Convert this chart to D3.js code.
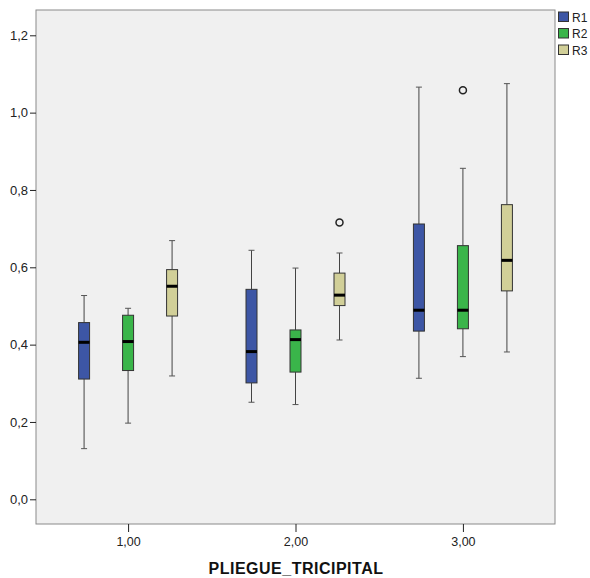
<!DOCTYPE html>
<html><head><meta charset="utf-8">
<script src="https://cdn.jsdelivr.net/npm/d3@7"></script>
<style>body{margin:0;background:#fff;} svg{display:block;font-family:Arial,"Liberation Sans",sans-serif;}</style>
</head><body>
<svg id="c" width="590" height="578"></svg>
<script>
const categories = ["1,00","2,00","3,00"];
const series = ["R1","R2","R3"];
const colors = ["#3d56a5","#3ab54a","#d1cf98"];
// [whiskerLow, q1, median, q3, whiskerHigh] per series per category
const R1 = [[0.131,0.311,0.406,0.457,0.527],[0.251,0.301,0.382,0.543,0.644],[0.313,0.435,0.489,0.712,1.066]];
const R2 = [[0.197,0.333,0.408,0.476,0.494],[0.245,0.329,0.413,0.438,0.598],[0.369,0.441,0.489,0.656,0.856]];
const R3 = [[0.319,0.474,0.551,0.594,0.669],[0.412,0.501,0.528,0.585,0.637],[0.381,0.539,0.618,0.762,1.075]];
const outliers = [{cat:"2,00",s:"R3",v:0.716},{cat:"3,00",s:"R2",v:1.058}];
const yTicks = [0,0.2,0.4,0.6,0.8,1.0,1.2];

const data = [R1,R2,R3];
const svg = d3.select("#c");
const L=36, R=555, T=10, B=524;
const y = d3.scaleLinear().domain([0,1.2]).range([499.3,35.3]);
const x = d3.scalePoint().domain(categories).range([L,R]).padding(0.55);
const off = d3.scalePoint().domain(series).range([-44,44]);
const bw = 11;

svg.append("rect").attr("x",L).attr("y",T).attr("width",R-L).attr("height",B-T)
  .attr("fill","#f0f0f0").attr("stroke","#8a8a8a").attr("stroke-width",1);

// y axis
const ya = svg.append("g").attr("transform",`translate(${L},0)`)
  .call(d3.axisLeft(y).tickValues(yTicks).tickSize(6).tickPadding(2).tickFormat(d=>d3.format(".1f")(d).replace(".",",")));
ya.select(".domain").remove();
ya.selectAll("line").attr("stroke","#222");
ya.selectAll("text").attr("font-size","13px").attr("fill","#222").attr("font-family","Arial,'Liberation Sans',sans-serif");

// x axis
const xa = svg.append("g").attr("transform",`translate(0,${B})`)
  .call(d3.axisBottom(x).tickSize(8).tickPadding(5));
xa.select(".domain").remove();
xa.selectAll("line").attr("stroke","#222");
xa.selectAll("text").attr("font-size","12.5px").attr("fill","#222").attr("font-family","Arial,'Liberation Sans',sans-serif");

svg.append("text").attr("x",296).attr("y",574).attr("text-anchor","middle")
  .attr("font-size","16px").attr("font-weight","bold").attr("letter-spacing","0.5px").attr("fill","#111").text("PLIEGUE_TRICIPITAL");

series.forEach((s,si)=>{
  categories.forEach((c,ci)=>{
    const d = data[si][ci];
    const cx = x(c)+off(s);
    const g = svg.append("g");
    g.append("line").attr("x1",cx).attr("x2",cx).attr("y1",y(d[0])).attr("y2",y(d[1])).attr("stroke","#444").attr("stroke-width",1);
    g.append("line").attr("x1",cx).attr("x2",cx).attr("y1",y(d[3])).attr("y2",y(d[4])).attr("stroke","#444").attr("stroke-width",1);
    [d[0],d[4]].forEach(v=>g.append("line").attr("x1",cx-3).attr("x2",cx+3).attr("y1",y(v)).attr("y2",y(v)).attr("stroke","#555").attr("stroke-width",1));
    g.append("rect").attr("x",cx-bw/2).attr("y",y(d[3])).attr("width",bw).attr("height",y(d[1])-y(d[3]))
      .attr("fill",colors[si]).attr("stroke","#333").attr("stroke-width",1);
    g.append("line").attr("x1",cx-bw/2).attr("x2",cx+bw/2).attr("y1",y(d[2])).attr("y2",y(d[2])).attr("stroke","#000").attr("stroke-width",3);
  });
});

outliers.forEach(o=>{
  svg.append("circle").attr("cx",x(o.cat)+off(o.s)).attr("cy",y(o.v)).attr("r",3.5)
    .attr("fill","none").attr("stroke","#222").attr("stroke-width",1.5);
});

// legend
series.forEach((s,i)=>{
  const ly = 12 + i*16.5;
  svg.append("rect").attr("x",558.5).attr("y",ly).attr("width",10).attr("height",9.5)
    .attr("fill",colors[i]).attr("stroke","#333").attr("stroke-width",1);
  svg.append("text").attr("x",572).attr("y",ly+9.5).attr("font-size","12px").attr("fill","#222").text(s);
});
</script>
</body></html>
